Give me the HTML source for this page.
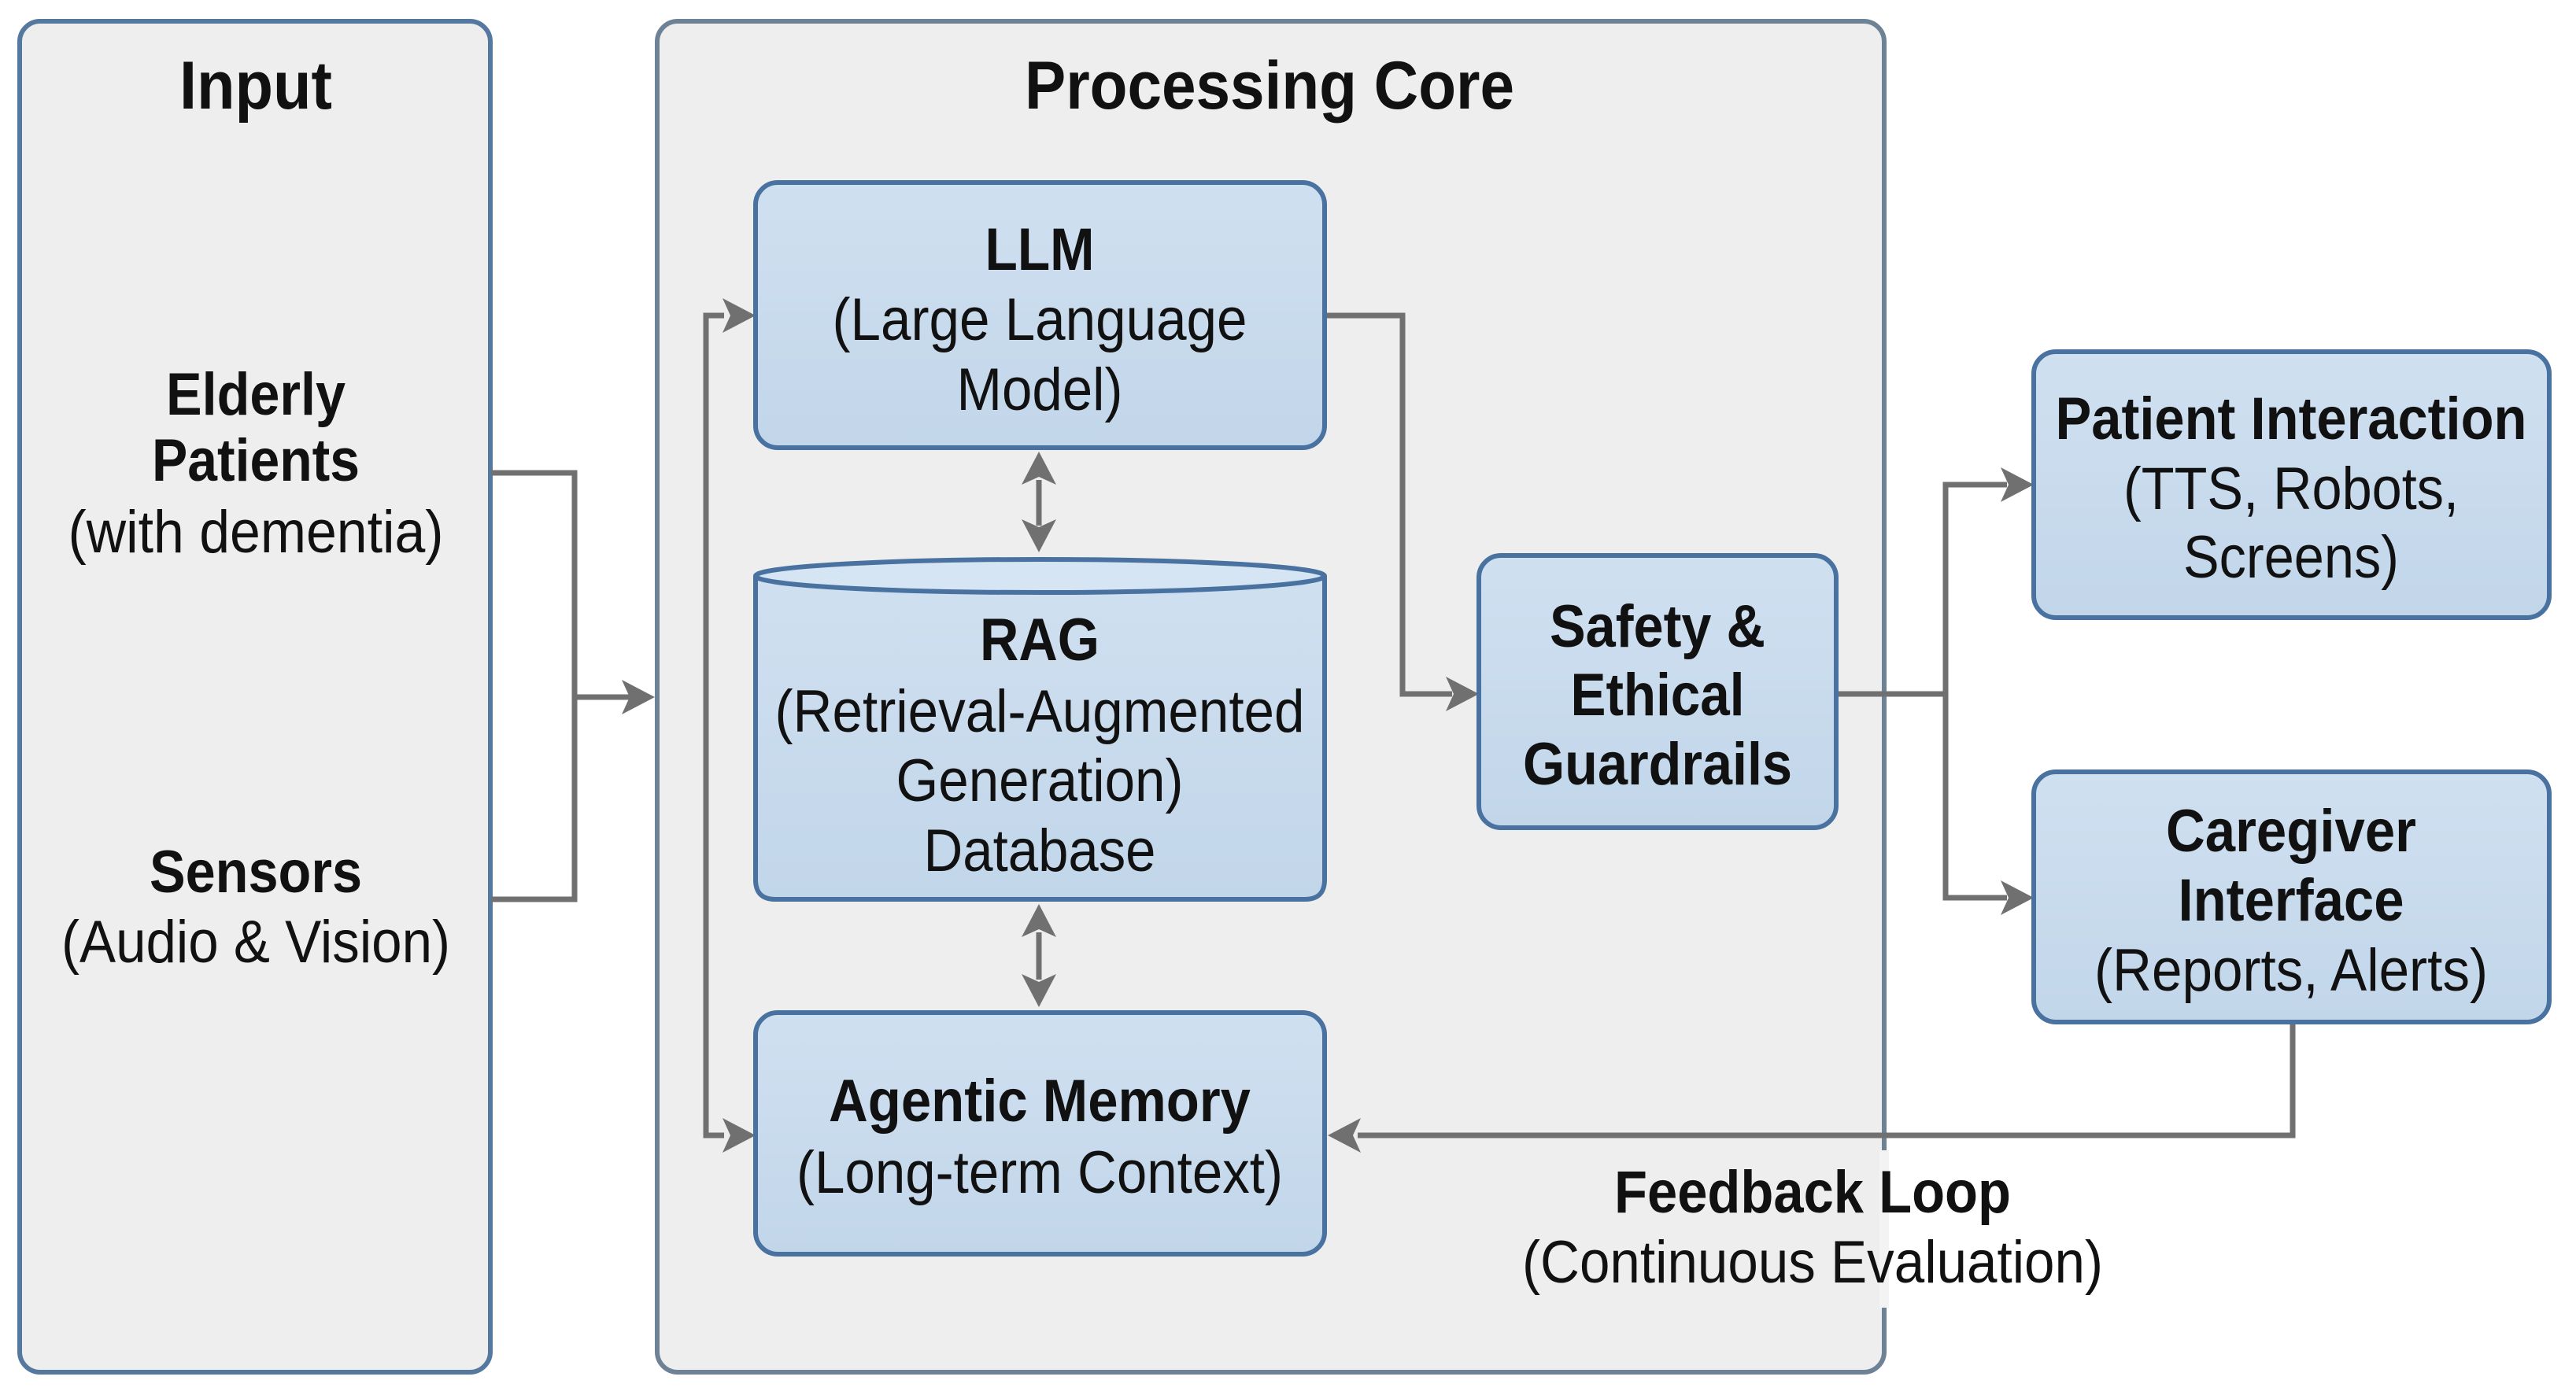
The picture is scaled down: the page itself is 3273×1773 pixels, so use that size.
<!DOCTYPE html>
<html><head><meta charset="utf-8"><style>html,body{margin:0;padding:0;background:#fff}svg{display:block}</style></head>
<body>
<svg width="3273" height="1773" viewBox="0 0 3273 1773" xmlns="http://www.w3.org/2000/svg" font-family="'Liberation Sans Narrow','Liberation Sans',sans-serif" fill="#111">
<defs>
<linearGradient id="bg" x1="0" y1="0" x2="0" y2="1"><stop offset="0" stop-color="#cfe0f0"/><stop offset="1" stop-color="#c2d6ea"/></linearGradient>
</defs>
<rect width="3273" height="1773" fill="#fff"/>
<rect x="25" y="27" width="598" height="1717" rx="26" fill="#eeeeee" stroke="#54789e" stroke-width="6"/>
<rect x="835" y="27" width="1559" height="1717" rx="26" fill="#eeeeee" stroke="#6e8296" stroke-width="6"/>
<rect x="2388" y="1462" width="12" height="200" fill="#f3f3f3"/>
<g stroke="#707070" stroke-width="7" fill="none">
<polyline points="624,601 730,601 730,1143 624,1143"/>
<line x1="730" y1="886" x2="800" y2="886"/>
<polyline points="920,401 897,401 897,1443 920,1443"/>
<polyline points="1683,401 1782,401 1782,882 1845,882"/>
<line x1="1320" y1="610" x2="1320" y2="668"/>
<line x1="1320" y1="1185" x2="1320" y2="1245"/>
<polyline points="2333,882 2472,882"/>
<polyline points="2550,616 2472,616 2472,1141 2550,1141"/>
<polyline points="2913,1299 2913,1443 1725,1443"/>
</g>
<g fill="#707070">
<polygon points="832,886 790,864 800,886 790,908"/>
<polygon points="960,401 918,379 928,401 918,423"/>
<polygon points="960,1443 918,1421 928,1443 918,1465"/>
<polygon points="1879,882 1837,860 1847,882 1837,904"/>
<polygon points="1320,574 1298,616 1320,606 1342,616"/>
<polygon points="1320,702 1298,660 1320,670 1342,660"/>
<polygon points="1320,1149 1298,1191 1320,1181 1342,1191"/>
<polygon points="1320,1280 1298,1238 1320,1248 1342,1238"/>
<polygon points="2584,616 2542,594 2552,616 2542,638"/>
<polygon points="2584,1141 2542,1119 2552,1141 2542,1163"/>
<polygon points="1687,1443 1729,1421 1719,1443 1729,1465"/>
</g>
<g stroke="#4a72a0" stroke-width="6" fill="url(#bg)">
<rect x="960" y="232" width="723" height="337" rx="28"/>
<path d="M960,732 L960,1118 Q960,1143 985,1143 L1658,1143 Q1683,1143 1683,1118 L1683,732"/>
<ellipse cx="1321.5" cy="732" rx="361.5" ry="21" fill="#d6e5f3"/>
<rect x="960" y="1287" width="723" height="307" rx="28"/>
<rect x="1879" y="706" width="454" height="346" rx="28"/>
<rect x="2584" y="447" width="655" height="338" rx="28"/>
<rect x="2584" y="981" width="655" height="318" rx="28"/>
</g>
<g text-anchor="middle" font-size="76">
<text x="325" y="138" font-size="86" font-weight="bold" textLength="194" lengthAdjust="spacingAndGlyphs">Input</text>
<text x="325" y="527" font-weight="bold" textLength="228" lengthAdjust="spacingAndGlyphs">Elderly</text>
<text x="325" y="611" font-weight="bold" textLength="264" lengthAdjust="spacingAndGlyphs">Patients</text>
<text x="325" y="702" textLength="477" lengthAdjust="spacingAndGlyphs">(with dementia)</text>
<text x="325" y="1134" font-weight="bold" textLength="270" lengthAdjust="spacingAndGlyphs">Sensors</text>
<text x="325" y="1223" textLength="494" lengthAdjust="spacingAndGlyphs">(Audio &amp; Vision)</text>
<text x="1613" y="138" font-size="86" font-weight="bold" textLength="622" lengthAdjust="spacingAndGlyphs">Processing Core</text>
<text x="1321" y="343" font-weight="bold" textLength="139" lengthAdjust="spacingAndGlyphs">LLM</text>
<text x="1321" y="432" textLength="527" lengthAdjust="spacingAndGlyphs">(Large Language</text>
<text x="1321" y="521" textLength="211" lengthAdjust="spacingAndGlyphs">Model)</text>
<text x="1321" y="839" font-weight="bold" textLength="152" lengthAdjust="spacingAndGlyphs">RAG</text>
<text x="1321" y="930" textLength="673" lengthAdjust="spacingAndGlyphs">(Retrieval-Augmented</text>
<text x="1321" y="1018" textLength="365" lengthAdjust="spacingAndGlyphs">Generation)</text>
<text x="1321" y="1107" textLength="295" lengthAdjust="spacingAndGlyphs">Database</text>
<text x="1321" y="1425" font-weight="bold" textLength="536" lengthAdjust="spacingAndGlyphs">Agentic Memory</text>
<text x="1321" y="1516" textLength="618" lengthAdjust="spacingAndGlyphs">(Long-term Context)</text>
<text x="2106" y="822" font-weight="bold" textLength="274" lengthAdjust="spacingAndGlyphs">Safety &amp;</text>
<text x="2106" y="909" font-weight="bold" textLength="221" lengthAdjust="spacingAndGlyphs">Ethical</text>
<text x="2106" y="997" font-weight="bold" textLength="342" lengthAdjust="spacingAndGlyphs">Guardrails</text>
<text x="2911" y="558" font-weight="bold" textLength="599" lengthAdjust="spacingAndGlyphs">Patient Interaction</text>
<text x="2911" y="647" textLength="426" lengthAdjust="spacingAndGlyphs">(TTS, Robots,</text>
<text x="2911" y="734" textLength="274" lengthAdjust="spacingAndGlyphs">Screens)</text>
<text x="2911" y="1082" font-weight="bold" textLength="318" lengthAdjust="spacingAndGlyphs">Caregiver</text>
<text x="2911" y="1170" font-weight="bold" textLength="287" lengthAdjust="spacingAndGlyphs">Interface</text>
<text x="2911" y="1259" textLength="500" lengthAdjust="spacingAndGlyphs">(Reports, Alerts)</text>
<text x="2303" y="1541" font-weight="bold" textLength="504" lengthAdjust="spacingAndGlyphs">Feedback Loop</text>
<text x="2303" y="1630" textLength="738" lengthAdjust="spacingAndGlyphs">(Continuous Evaluation)</text>
</g>
</svg>
</body></html>
